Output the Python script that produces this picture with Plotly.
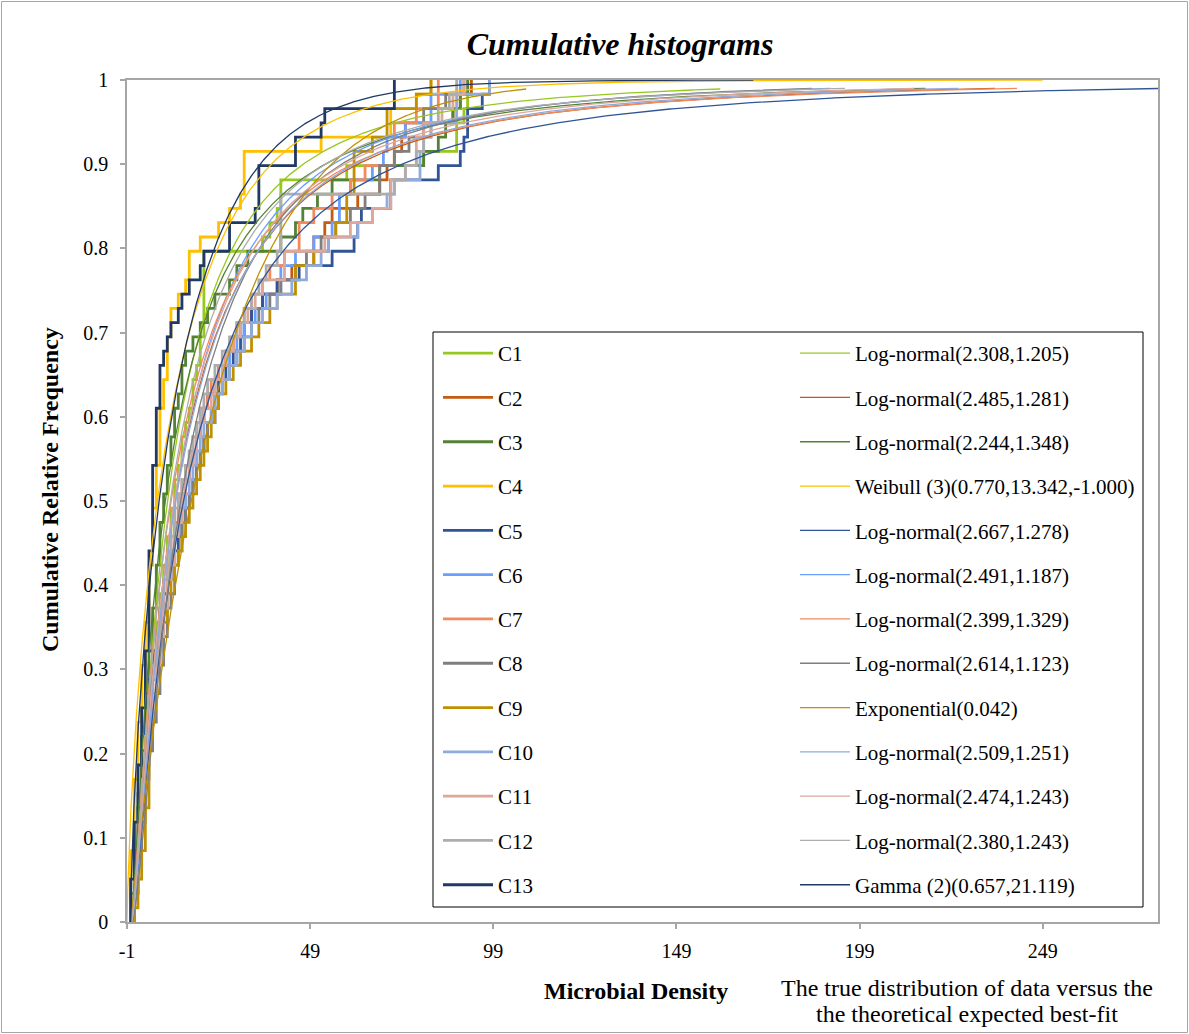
import math
import numpy as np
import plotly.graph_objects as go

# ---------------- data ----------------
series_names = ["C1", "C2", "C3", "C4", "C5", "C6", "C7", "C8", "C9", "C10", "C11", "C12", "C13"]

C1 = [0,0,1,1,1,2,2,2,3,3, 3,4,4,4,5,5,5,6,6,7, 7,8,8,9,9,10,10,11,11,12,
      12,13,14,14,15,16,17,17,18,19, 19,20,20,20,20,20,20,36,38,40, 41,41,59,80,89,89,91,92,93]
C2 = [0,1,1,1,2,2,3,3,3,4, 4,4,5,5,5,6,6,7,7,8, 8,9,9,10,11,11,12,13,13,14,
      15,16,17,18,19,20,21,23,24,26, 28,30,33,36,40,44,50,50,53,55, 62,68,70,72,74,75,88,90,93]
C3 = [0,0,1,1,1,2,2,2,2,3, 3,3,3,4,4,4,5,5,5,6, 6,6,7,7,7,8,8,8,9,9,
      10,10,11,11,12,12,13,14,14,15, 17,19,21,23,27,29,32,41,45,47, 51,55,68,80,84,86,88,90,92]
C4 = [0,0,0,0,0,1,1,1,1,1, 2,2,2,2,3,3,3,3,4,4, 4,5,5,5,5,6,6,6,6,7,
      7,7,8,8,8,8,9,9,10,10, 10,11,11,13,15,16,16,19,24,27, 30,31,31,31,52,71,71,78,82]
C5 = [0,1,1,1,1,2,2,2,3,3, 3,3,4,4,4,5,5,6,6,7, 8,8,9,10,11,12,13,14,15,16,
      17,18,19,20,21,23,23,24,26,28, 30,31,33,36,40,46,55,61,62,63, 71,71,84,90,91,92,92,96,98]
C6 = [1,1,2,2,2,3,3,3,4,4, 4,5,5,5,6,6,7,7,8,8, 9,9,10,10,11,12,12,13,14,14,
      15,16,17,18,19,20,21,23,25,27, 29,31,34,37,41,41,45,50,55,57, 57,60,66,69,70,75,82,82,90]
C7 = [0,1,1,1,2,2,2,3,3,3, 4,4,4,5,5,6,6,6,7,7, 8,8,9,9,10,11,11,12,13,13,
      14,15,16,17,18,19,21,22,24,26, 28,29,31,33,36,38,42,46,46,50, 55,60,64,72,72,72,78,84,84]
C8 = [1,1,2,2,3,3,3,4,4,4, 5,5,6,6,7,7,8,8,9,9, 10,10,11,12,12,13,14,14,15,16,
      17,18,19,20,21,22,24,25,27,29, 31,33,35,38,41,45,48,52,56,60, 64,68,68,72,76,80,80,86,91]
C9 = [1,2,2,3,3,4,4,4,5,5, 5,5,5,6,6,6,7,7,8,8, 9,10,10,11,12,13,14,15,16,17,
      18,19,20,21,22,23,24,26,28,30, 33,35,38,40,45,45,50,54,56,59, 59,61,61,61,66,70,70,78,82]
C10 = [0,1,1,2,2,2,3,3,3,4, 4,4,5,5,6,6,6,7,7,8, 8,9,10,10,11,11,12,13,14,15,
       16,17,18,19,20,22,23,25,27,29, 31,33,36,40,44,48,52,54,62,66, 70,72,79,79,80,82,89,89,98]
C11 = [0,1,1,2,2,2,3,3,3,4, 4,5,5,5,6,6,7,7,8,8, 9,9,10,10,11,12,12,13,14,14,
       15,16,17,18,19,20,22,23,25,26, 28,30,32,34,36,42,42,53,60,66, 71,71,75,78,78,80,85,88,91]
C12 = [0,1,1,1,2,2,2,3,3,3, 4,4,4,5,5,5,6,6,7,7, 8,8,9,9,10,10,11,12,12,13,
       14,15,16,17,18,19,20,21,23,25, 27,29,31,33,35,37,40,41,41,41, 41,72,75,78,80,82,84,87,89]
C13 = [0,0,0,1,1,1,1,2,2,2, 2,3,3,3,3,4,4,4,4,5, 5,5,5,5,5,5,6,6,6,6,
       6,6,7,7,7,7,8,8,8,9, 10,11,13,14,16,19,20,27,27,34, 35,35,35,45,45,52,53,72,72]
series_values = [C1, C2, C3, C4, C5, C6, C7, C8, C9, C10, C11, C12, C13]

fit_labels = ["Log-normal(2.308,1.205)", "Log-normal(2.485,1.281)", "Log-normal(2.244,1.348)",
              "Weibull (3)(0.770,13.342,-1.000)", "Log-normal(2.667,1.278)", "Log-normal(2.491,1.187)",
              "Log-normal(2.399,1.329)", "Log-normal(2.614,1.123)", "Exponential(0.042)",
              "Log-normal(2.509,1.251)", "Log-normal(2.474,1.243)", "Log-normal(2.380,1.243)",
              "Gamma (2)(0.657,21.119)"]
fit_types = ["lognormal", "lognormal", "lognormal", "weibull3", "lognormal", "lognormal",
             "lognormal", "lognormal", "exponential", "lognormal", "lognormal", "lognormal", "gamma"]
fit_params = [(2.308, 1.205), (2.485, 1.281), (2.244, 1.348), (0.770, 13.342, -1.000),
              (2.667, 1.278), (2.491, 1.187), (2.399, 1.329), (2.614, 1.123), (0.042,),
              (2.509, 1.251), (2.474, 1.243), (2.380, 1.243), (0.657, 21.119)]
fit_x_start = [0, 0, 0, -1, 0, 0, 0, 0, 0, 0, 0, 0, 0]
fit_x_end = [161, 236, 217, 249, 281, 191, 242, 186, 108, 226, 214, 195, 170]

colors = ["#97C81E", "#C55A11", "#548235", "#FFC000", "#2F5597", "#6B9FFF", "#F28A5C",
          "#7F7F7F", "#BF9000", "#8FAADC", "#DDA89A", "#ADADAD", "#1F3864"]

x_ticks = [-1, 49, 99, 149, 199, 249]
y_ticks = [0, 0.1, 0.2, 0.3, 0.4, 0.5, 0.6, 0.7, 0.8, 0.9, 1]
y_tick_text = ["0", "0.1", "0.2", "0.3", "0.4", "0.5", "0.6", "0.7", "0.8", "0.9", "1"]


# ---------------- distribution CDFs ----------------
def gamma_p(a, x):
    if x <= 0:
        return 0.0
    if x < a + 1:
        ap = a
        s = 1.0 / a
        d = s
        for _ in range(1000):
            ap += 1
            d *= x / ap
            s += d
            if abs(d) < abs(s) * 1e-14:
                break
        return s * math.exp(-x + a * math.log(x) - math.lgamma(a))
    b = x + 1 - a
    c = 1e300
    d = 1.0 / b
    h = d
    for i in range(1, 1000):
        an = -i * (i - a)
        b += 2
        d = an * d + b
        if abs(d) < 1e-300:
            d = 1e-300
        c = b + an / c
        if abs(c) < 1e-300:
            c = 1e-300
        d = 1.0 / d
        de = d * c
        h *= de
        if abs(de - 1) < 1e-14:
            break
    return 1.0 - math.exp(-x + a * math.log(x) - math.lgamma(a)) * h


def cdf(kind, p, x):
    if kind == "lognormal":
        mu, s = p
        if x <= 0:
            return 0.0
        return 0.5 * (1 + math.erf((math.log(x) - mu) / (s * math.sqrt(2))))
    if kind == "weibull3":
        k, lam, c = p
        if x <= c:
            return 0.0
        return 1 - math.exp(-(((x - c) / lam) ** k))
    if kind == "exponential":
        (lam,) = p
        if x <= 0:
            return 0.0
        return 1 - math.exp(-lam * x)
    if kind == "gamma":
        k, theta = p
        return gamma_p(k, x / theta)
    return 0.0


fig = go.Figure()

# cumulative step histograms
for name, vals, col in zip(series_names, series_values, colors):
    v = sorted(vals)
    n = len(v)
    xs = [v[0]] + v
    ys = [0.0] + [(i + 1) / n for i in range(n)]
    fig.add_trace(go.Scatter(x=xs, y=ys, mode="lines", name=name, line=dict(color=col, width=2.8, shape="hv"),
                             legend="legend", legendgroup=name, hoverinfo="skip"))

# fitted theoretical CDFs
for lab, kind, par, x0, x1, col in zip(fit_labels, fit_types, fit_params, fit_x_start, fit_x_end, colors):
    t = np.linspace(0, 1, 700)
    xs = x0 + (x1 - x0) * t ** 2
    ys = [cdf(kind, par, float(x)) for x in xs]
    fig.add_trace(go.Scatter(x=xs, y=ys, mode="lines", name=lab, line=dict(color=col, width=1.3),
                             legend="legend2", legendgroup=lab, hoverinfo="skip"))

FONT = "Liberation Serif"
L, R, T, B = 127, 31, 80, 112
W, H = 1189, 1034
PW, PH = W - L - R, H - T - B


def px2x(px):
    return (px - L) / PW


def py2y(py):
    return (H - B - py) / PH


axis_common = dict(showgrid=False, zeroline=False, showline=True, linecolor="#A6A6A6", linewidth=1.5,
                   mirror=True, ticks="outside", ticklen=5, tickcolor="#A6A6A6", tickwidth=1.5,
                   tickfont=dict(family=FONT, size=20, color="black"))

fig.update_layout(
    width=W, height=H,
    margin=dict(l=L, r=R, t=T, b=B),
    paper_bgcolor="white", plot_bgcolor="white",
    font=dict(family=FONT, color="black"),
    title=dict(text="<b><i>Cumulative histograms</i></b>", x=620 / W, xanchor="center",
               y=1 - 44 / H, yanchor="middle", font=dict(family=FONT, size=32, color="black")),
    xaxis=dict(range=[-1, 280.5], tickvals=x_ticks, ticktext=[str(t) for t in x_ticks],
               ticklabelstandoff=5, **axis_common),
    yaxis=dict(range=[0, 1], tickvals=y_ticks, ticktext=y_tick_text, ticklabelstandoff=8, **axis_common),
    legend=dict(x=px2x(438), y=py2y(333), xanchor="left", yanchor="top", bgcolor="rgba(0,0,0,0)",
                font=dict(family=FONT, size=21, color="black"), tracegroupgap=14, itemwidth=50,
                borderwidth=0),
    legend2=dict(x=px2x(795), y=py2y(333), xanchor="left", yanchor="top", bgcolor="rgba(0,0,0,0)",
                 font=dict(family=FONT, size=21, color="black"), tracegroupgap=14, itemwidth=50,
                 borderwidth=0),
    showlegend=True,
    shapes=[
        dict(type="rect", xref="paper", yref="paper", x0=px2x(433), x1=px2x(1143), y0=py2y(907), y1=py2y(332),
             line=dict(color="black", width=1), fillcolor="white", layer="above"),
        dict(type="rect", xref="paper", yref="paper", x0=px2x(1.5), x1=px2x(1187.5), y0=py2y(1032.5), y1=py2y(1.5),
             line=dict(color="#A6A6A6", width=1), fillcolor="rgba(0,0,0,0)", layer="above"),
    ],
    annotations=[
        dict(text="<b>Microbial Density</b>", xref="paper", yref="paper", x=px2x(636), y=py2y(991),
             xanchor="center", yanchor="middle", showarrow=False, font=dict(family=FONT, size=24)),
        dict(text="The true distribution of data versus the",
             xref="paper", yref="paper", x=px2x(967), y=py2y(988), xanchor="center", yanchor="middle",
             showarrow=False, font=dict(family=FONT, size=24)),
        dict(text="the theoretical expected best-fit",
             xref="paper", yref="paper", x=px2x(967), y=py2y(1014), xanchor="center", yanchor="middle",
             showarrow=False, font=dict(family=FONT, size=24)),
        dict(text="<b>Cumulative Relative Frequency</b>", xref="paper", yref="paper", x=px2x(50), y=py2y(490),
             xanchor="center", yanchor="middle", showarrow=False, textangle=-90,
             font=dict(family=FONT, size=24)),
    ],
)

fig.write_html("out.html")
